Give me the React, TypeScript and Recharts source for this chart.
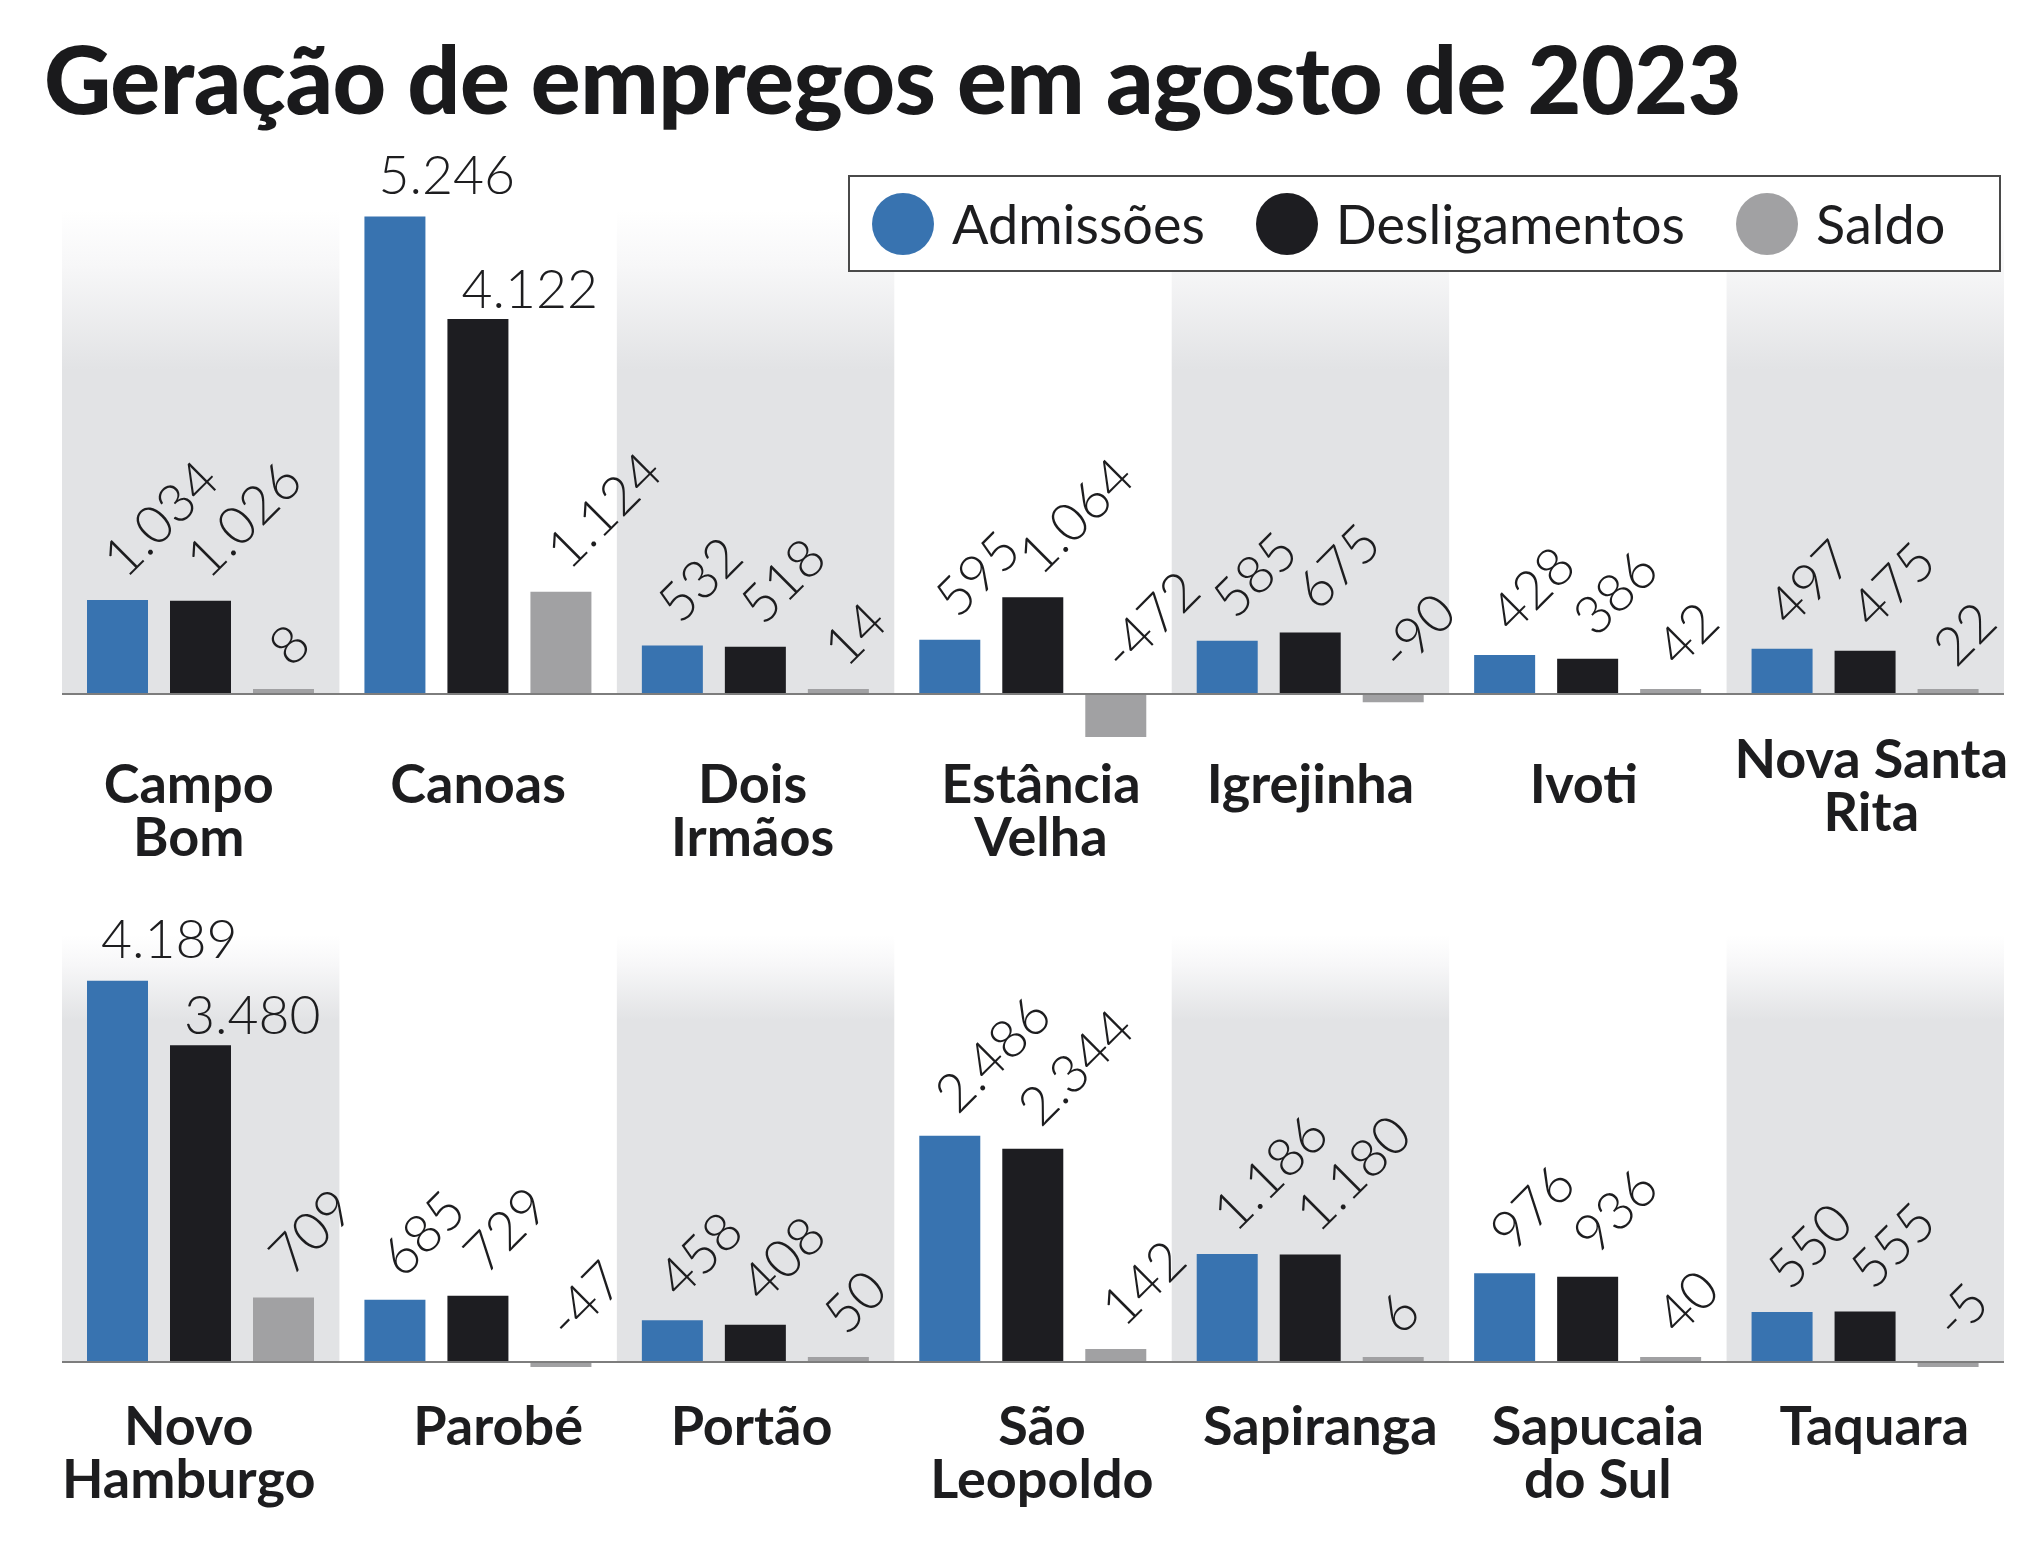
import React from 'react';
import { BarChart, Bar, XAxis, YAxis, ReferenceArea, ReferenceLine, Legend } from 'recharts';

// ---------- data ----------
const categoriesTop = ['Campo Bom', 'Canoas', 'Dois Irmãos', 'Estância Velha', 'Igrejinha', 'Ivoti', 'Nova Santa Rita'];
const admissoesTop = [1034, 5246, 532, 595, 585, 428, 497];
const desligamentosTop = [1026, 4122, 518, 1064, 675, 386, 475];
const saldoTop = [8, 1124, 14, -472, -90, 42, 22];

const categoriesBottom = ['Novo Hamburgo', 'Parobé', 'Portão', 'São Leopoldo', 'Sapiranga', 'Sapucaia do Sul', 'Taquara'];
const admissoesBottom = [4189, 685, 458, 2486, 1186, 976, 550];
const desligamentosBottom = [3480, 729, 408, 2344, 1180, 936, 555];
const saldoBottom = [709, -47, 50, 142, 6, 40, -5];

const labelLines: Record<string, string[]> = {
  'Campo Bom': ['Campo', 'Bom'],
  'Canoas': ['Canoas'],
  'Dois Irmãos': ['Dois', 'Irmãos'],
  'Estância Velha': ['Estância', 'Velha'],
  'Igrejinha': ['Igrejinha'],
  'Ivoti': ['Ivoti'],
  'Nova Santa Rita': ['Nova Santa', 'Rita'],
  'Novo Hamburgo': ['Novo', 'Hamburgo'],
  'Parobé': ['Parobé'],
  'Portão': ['Portão'],
  'São Leopoldo': ['São', 'Leopoldo'],
  'Sapiranga': ['Sapiranga'],
  'Sapucaia do Sul': ['Sapucaia', 'do Sul'],
  'Taquara': ['Taquara'],
};

const seriesNames = { adm: 'Admissões', desl: 'Desligamentos', saldo: 'Saldo' };
const titleText = 'Geração de empregos em agosto de 2023';

// ---------- style ----------
const FONT = 'Lato, "Noto Sans", sans-serif';
const COLORS = { adm: '#3873b0', desl: '#1d1d21', saldo: '#a1a1a3' };
const BAND = '#e2e3e5';
const TEXT = '#1d1d1f';
const VALUE_FS = 53.5;

// small horizontal nudges of the category labels (style only)
const LABEL_NUDGE: Record<string, number> = {
  'Campo Bom': -12,
  'Dois Irmãos': -3,
  'Estância Velha': 8,
  'Ivoti': -4,
  'Nova Santa Rita': 6,
  'Novo Hamburgo': -12,
  'Parobé': 20,
  'Portão': -4,
  'São Leopoldo': 9,
  'Sapiranga': 10,
  'Sapucaia do Sul': 10,
  'Taquara': 9,
};
const RAISED = new Set(['Nova Santa Rita']);

const buildRows = (cats: string[], a: number[], d: number[], s: number[]) =>
  cats.map((name, i) => ({ name, adm: a[i], desl: d[i], saldo: s[i] }));

const topRows = buildRows(categoriesTop, admissoesTop, desligamentosTop, saldoTop);
const bottomRows = buildRows(categoriesBottom, admissoesBottom, desligamentosBottom, saldoBottom);

function fmt(v: number): string {
  const s = String(Math.abs(v)).replace(/\B(?=(\d{3})+(?!\d))/g, '.');
  return (v < 0 ? '-' : '') + s;
}

const makeValueLabel = (flatGap: number) => (props: any) => {
  const { x, y, width, height, value } = props;
  if (value == null) return null;
  const nx = Number(x), ny = Number(y), nw = Number(width), nh = Number(height);
  const top = Math.min(ny, ny + nh);
  const text = fmt(Number(value));
  if (Math.abs(Number(value)) > 3000) {
    return (
      <text x={nx + 14} y={top - flatGap} fontFamily={FONT} fontWeight={300} fontSize={VALUE_FS} fill={TEXT}>
        {text}
      </text>
    );
  }
  const ax = nx + nw / 2 + 8;
  const ay = top - 20;
  return (
    <text
      x={ax}
      y={ay}
      transform={`rotate(-45 ${ax} ${ay})`}
      fontFamily={FONT}
      fontWeight={300}
      fontSize={VALUE_FS}
      fill={TEXT}
    >
      {text}
    </text>
  );
};

const admLabel = makeValueLabel(23);
const deslLabel = makeValueLabel(11);
const saldoLabel = makeValueLabel(14);

const makeTick = (y1: number, gap: number) => (props: any) => {
  const { x, payload } = props;
  const name = String(payload?.value ?? '');
  const lines = labelLines[name] || [name];
  const shift = RAISED.has(name) ? -25 : 0;
  const dx = LABEL_NUDGE[name] || 0;
  return (
    <g>
      {lines.map((ln, i) => (
        <text
          key={i}
          x={Number(x) + dx}
          y={y1 + shift + i * gap}
          textAnchor="middle"
          fontFamily={FONT}
          fontWeight={700}
          fontSize={54}
          fill={TEXT}
        >
          {ln}
        </text>
      ))}
    </g>
  );
};

const LegendBox = (props: any) => {
  const payload = props.payload || [];
  return (
    <div
      style={{
        boxSizing: 'border-box',
        width: 1153,
        height: 97,
        border: '2px solid #4a4a4a',
        background: '#fff',
        display: 'flex',
        alignItems: 'center',
        paddingLeft: 22,
        fontFamily: FONT,
        fontWeight: 400,
        fontSize: 54,
        color: TEXT,
      }}
    >
      {payload.map((p: any, i: number) => (
        <div key={i} style={{ display: 'flex', alignItems: 'center', marginRight: 51 }}>
          <div style={{ width: 62, height: 62, borderRadius: '50%', background: p.color, marginRight: 18 }} />
          <span style={{ lineHeight: 1 }}>{p.value}</span>
        </div>
      ))}
    </div>
  );
};

type PanelProps = {
  rows: any[];
  cats: string[];
  top: number;
  height: number;
  marginTop: number;
  domainMax: number;
  axisHeight: number;
  bandMax: number;
  gradId: string;
  gradStop: number;
  tickY: number;
  showLegend?: boolean;
};

function Panel(p: PanelProps) {
  const bands = p.cats.filter((_, i) => i % 2 === 0);
  return (
    <div style={{ position: 'absolute', left: 0, top: p.top }}>
      <BarChart
        width={2040}
        height={p.height}
        data={p.rows}
        margin={{ top: p.marginTop, right: 36, bottom: 0, left: 62 }}
        barCategoryGap={25}
        barGap={22}
      >
        <defs>
          <linearGradient id={p.gradId} x1="0" y1="0" x2="0" y2="1">
            <stop offset="0" stopColor="#ffffff" />
            <stop offset={p.gradStop * 0.35} stopColor="#f7f7f8" />
            <stop offset={p.gradStop} stopColor={BAND} />
            <stop offset="1" stopColor={BAND} />
          </linearGradient>
        </defs>
        <XAxis
          dataKey="name"
          axisLine={false}
          tickLine={false}
          interval={0}
          height={p.axisHeight}
          tick={makeTick(p.tickY, 53)}
        />
        <YAxis hide domain={[-500, p.domainMax]} allowDataOverflow />
        {bands.map((c) => (
          <ReferenceArea
            key={c}
            x1={c}
            x2={c}
            y1={0}
            y2={p.bandMax}
            fill={`url(#${p.gradId})`}
            fillOpacity={1}
            stroke="none"
            ifOverflow="visible"
          />
        ))}
        <Bar dataKey="adm" name={seriesNames.adm} fill={COLORS.adm} isAnimationActive={false} label={admLabel} />
        <Bar dataKey="desl" name={seriesNames.desl} fill={COLORS.desl} isAnimationActive={false} label={deslLabel} />
        <Bar
          dataKey="saldo"
          name={seriesNames.saldo}
          fill={COLORS.saldo}
          minPointSize={5}
          isAnimationActive={false}
          label={saldoLabel}
        />
        <ReferenceLine y={0} stroke="#7d7d7d" strokeWidth={2} ifOverflow="visible" />
        {p.showLegend && (
          <Legend
            layout="horizontal"
            verticalAlign="middle"
            align="center"
            content={LegendBox}
            wrapperStyle={{ position: 'absolute', left: 848, top: 175, width: 1153, height: 97 }}
          />
        )}
      </BarChart>
    </div>
  );
}

export default function App() {
  return (
    <div style={{ position: 'absolute', left: 0, top: 0, width: 2040, height: 1544, background: '#fff', overflow: 'hidden' }}>
      <div
        style={{
          position: 'absolute',
          left: 44,
          top: 32,
          fontFamily: FONT,
          fontWeight: 900,
          fontSize: 93,
          lineHeight: 1,
          color: '#1a1a1c',
          whiteSpace: 'nowrap',
          letterSpacing: -0.5,
        }}
      >
        {titleText}
      </div>
      <Panel
        rows={topRows}
        cats={categoriesTop}
        top={0}
        height={880}
        marginTop={193.5}
        domainMax={5500}
        axisHeight={140.5}
        bandMax={5319}
        gradId="gradTop"
        gradStop={0.33}
        tickY={803}
        showLegend
      />
      <Panel
        rows={bottomRows}
        cats={categoriesBottom}
        top={880}
        height={664}
        marginTop={45.2}
        domainMax={4800}
        axisHeight={136.5}
        bandMax={4692}
        gradId="gradBottom"
        gradStop={0.2}
        tickY={565}
      />
    </div>
  );
}
